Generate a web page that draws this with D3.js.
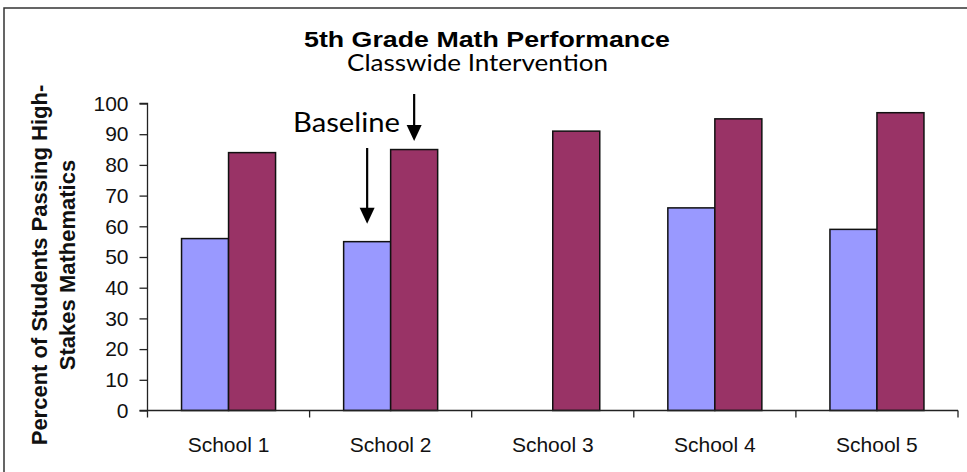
<!DOCTYPE html>
<html>
<head>
<meta charset="utf-8">
<script src="https://cdn.jsdelivr.net/npm/d3@7"></script>
<style>
  html, body { margin: 0; padding: 0; background: #fff; }
  svg { display: block; }
</style>
</head>
<body>
<svg id="chart" width="967" height="472"></svg>
<script>
const categories = ["School 1", "School 2", "School 3", "School 4", "School 5"];
const seriesNames = ["Baseline", "Classwide Intervention"];
const baselineValues = [56, 55, null, 66, 59];
const interventionValues = [84, 85, 91, 95, 97];
const yTicks = [0, 10, 20, 30, 40, 50, 60, 70, 80, 90, 100];
const colors = ["#9999FF", "#993366"];

const svg = d3.select("#chart");
const W = 967, H = 472;
const plot = { left: 147.5, right: 958, top: 103.5, bottom: 410.5 };

// outer border
svg.append("rect")
  .attr("x", 4).attr("y", 8).attr("width", W + 10).attr("height", H + 10)
  .attr("fill", "#fff").attr("stroke", "#333").attr("stroke-width", 1.5);

const y = d3.scaleLinear().domain([0, 100]).range([plot.bottom, plot.top]);
const x0 = d3.scaleBand().domain(categories).range([plot.left, plot.right]).padding(0);
const groupW = x0.step() * 0.58;
const x1 = d3.scaleBand().domain(seriesNames).range([0, groupW]).padding(0);

const rows = categories.map((c, i) => ({
  cat: c,
  vals: [
    { s: seriesNames[0], v: baselineValues[i] },
    { s: seriesNames[1], v: interventionValues[i] }
  ]
}));

// bars
const g = svg.append("g");
rows.forEach(r => {
  const gx = x0(r.cat) + (x0.bandwidth() - groupW) / 2;
  g.selectAll(null)
    .data(r.vals.filter(d => d.v != null))
    .enter().append("rect")
    .attr("x", d => gx + x1(d.s))
    .attr("y", d => y(d.v))
    .attr("width", x1.bandwidth())
    .attr("height", d => y(0) - y(d.v))
    .attr("fill", d => colors[seriesNames.indexOf(d.s)])
    .attr("stroke", "#111").attr("stroke-width", 1.5);
});

// y axis
const yAxis = d3.axisLeft(y).tickValues(yTicks).tickSize(8).tickPadding(11).tickFormat(d3.format("d"));
const ya = svg.append("g").attr("transform", `translate(${plot.left},0)`).call(yAxis);
ya.select(".domain").attr("stroke", "#222").attr("stroke-width", 1.3).attr("d", `M-8,${plot.top}H0V${plot.bottom}`);
ya.selectAll(".tick line").attr("stroke", "#222").attr("stroke-width", 1.3);
ya.selectAll(".tick text")
  .attr("font-family", "'Liberation Sans', Arial, sans-serif")
  .attr("font-size", 21).attr("fill", "#111");

// x axis
const tickPos = categories.map(c => x0(c)).concat([plot.right]);
const xa = svg.append("g").attr("transform", `translate(0,${plot.bottom})`);
xa.append("line").attr("x1", plot.left - 8).attr("x2", plot.right).attr("y1", 0).attr("y2", 0)
  .attr("stroke", "#222").attr("stroke-width", 1.3);
xa.selectAll(".xt").data(tickPos).enter().append("line")
  .attr("x1", d => d).attr("x2", d => d).attr("y1", 0).attr("y2", 7)
  .attr("stroke", "#222").attr("stroke-width", 1.3);
xa.selectAll(".xl").data(categories).enter().append("text")
  .attr("x", d => x0(d) + x0.bandwidth() / 2).attr("y", 41)
  .attr("text-anchor", "middle")
  .attr("font-family", "'Liberation Sans', Arial, sans-serif")
  .attr("font-size", 21).attr("fill", "#111")
  .text(d => d);

// y axis title
const yt = svg.append("text")
  .attr("transform", "translate(0,265) rotate(-90)")
  .attr("text-anchor", "middle")
  .attr("font-family", "'Liberation Sans', Arial, sans-serif")
  .attr("font-weight", "bold").attr("font-size", 22).attr("fill", "#111");
yt.append("tspan").attr("x", 0).attr("y", 47).text("Percent of Students Passing High-");
yt.append("tspan").attr("x", 0).attr("y", 75).text("Stakes Mathematics");

// titles
svg.append("text")
  .attr("x", 304).attr("y", 46.5)
  .attr("font-family", "'Liberation Sans', Arial, sans-serif")
  .attr("font-weight", "bold").attr("font-size", 22).attr("fill", "#000")
  .attr("textLength", 366).attr("lengthAdjust", "spacingAndGlyphs")
  .text("5th Grade Math Performance");
svg.append("text")
  .attr("x", 347).attr("y", 71)
  .attr("font-family", "Lato, 'Open Sans', sans-serif")
  .attr("font-size", 23).attr("fill", "#000")
  .attr("textLength", 261).attr("lengthAdjust", "spacingAndGlyphs")
  .text(seriesNames[1]);

// Baseline annotation
svg.append("text")
  .attr("x", 293).attr("y", 132)
  .attr("font-family", "Lato, 'Open Sans', sans-serif")
  .attr("font-size", 27).attr("fill", "#000")
  .attr("textLength", 107).attr("lengthAdjust", "spacingAndGlyphs")
  .text(seriesNames[0]);

// arrows pointing to School 2 bars
const s2x = x0(categories[1]) + (x0.bandwidth() - groupW) / 2;
function arrow(cx, yStart, yTip) {
  svg.append("line").attr("x1", cx).attr("x2", cx).attr("y1", yStart).attr("y2", yTip - 10)
    .attr("stroke", "#000").attr("stroke-width", 2.2);
  svg.append("path")
    .attr("d", `M${cx - 7.5},${yTip - 16}L${cx + 7.5},${yTip - 16}L${cx},${yTip}Z`)
    .attr("fill", "#000");
}
arrow(s2x + x1(seriesNames[1]) + x1.bandwidth() / 2, 94, y(interventionValues[1]) - 8.5);
arrow(s2x + x1(seriesNames[0]) + x1.bandwidth() / 2, 148, y(baselineValues[1]) - 18);
</script>
</body>
</html>
